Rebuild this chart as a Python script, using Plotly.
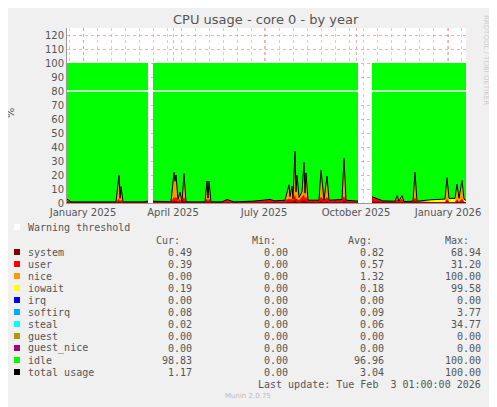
import plotly.graph_objects as go

# sampled points (None marks the two gaps in the data)
dates = ["2024-12-16", "2024-12-17", "2024-12-20", "2024-12-22", "2025-01-08", "2025-01-20",
         "2025-02-03", "2025-02-06", "2025-02-07", "2025-02-08", "2025-02-10", "2025-03-02", "2025-03-07",
         "2025-03-09",
         "2025-03-12", "2025-03-30", "2025-04-02", "2025-04-03", "2025-04-04", "2025-04-06", "2025-04-08",
         "2025-04-10", "2025-04-12", "2025-04-14", "2025-05-03", "2025-05-05", "2025-05-06", "2025-05-07",
         "2025-05-09", "2025-05-20", "2025-05-25", "2025-06-01", "2025-06-20", "2025-07-07", "2025-07-12",
         "2025-07-22", "2025-07-26", "2025-07-27", "2025-07-29", "2025-07-30", "2025-08-01", "2025-08-02",
         "2025-08-03", "2025-08-05", "2025-08-08", "2025-08-10", "2025-08-11", "2025-08-12", "2025-08-14",
         "2025-08-25", "2025-08-27", "2025-08-30", "2025-09-02", "2025-09-04", "2025-09-17", "2025-09-19",
         "2025-09-21", "2025-10-03",
         "2025-10-10",
         "2025-10-17", "2025-10-22", "2025-10-28", "2025-11-09", "2025-11-11", "2025-11-13", "2025-11-16",
         "2025-11-18", "2025-11-27", "2025-11-29", "2025-12-01", "2025-12-15", "2025-12-29", "2025-12-31",
         "2026-01-02", "2026-01-08", "2026-01-10", "2026-01-12", "2026-01-15", "2026-01-17", "2026-01-19"]
system = [0.5, 0.5, 0.3, 0.3, 0.3, 0.3, 0.3, 1.0, 0.5, 0.8, 0.3, 0.3, 0.3,
          None,
          0.3, 0.3, 1.5, 1.0, 1.5, 0.5, 0.8, 0.3, 1.5, 0.3, 0.3, 1.2, 0.5, 1.2,
          0.3, 0.3, 0.5, 0.3, 0.3, 0.5, 0.5,
          0.5, 1.0, 0.5, 1.0, 0.5, 2.0, 1.0,
          0.8, 0.5, 1.5, 2.0, 1.0, 1.5, 0.5,
          0.5, 1.5, 0.5, 1.2, 0.5, 0.5, 2.0,
          0.5, 0.5,
          None,
          1.0, 0.8, 0.5, 0.5, 0.8, 0.5, 0.8,
          0.5, 0.5, 1.5, 0.5, 0.3, 0.3, 1.0,
          0.3, 0.3, 1.0, 0.3, 1.0, 0.3, 0.3]
user = [1.5, 1.5, 0.5, 0.5, 1.0, 0.8, 0.5, 2.0, 0.8, 1.5, 0.5, 0.5, 1.0,
        None,
        1.0, 0.5, 3.0, 2.0, 3.0, 1.0, 2.0, 0.5, 3.0, 0.5, 0.5, 2.0, 1.0, 2.0,
        0.5, 0.5, 2.0, 0.5, 1.0, 2.0, 1.0,
        1.5, 2.0, 2.0, 2.0, 1.5, 4.0, 2.0,
        2.0, 1.5, 3.0, 4.0, 2.0, 3.0, 1.5,
        1.5, 3.0, 1.5, 3.0, 1.5, 2.0, 3.0,
        1.5, 0.8,
        None,
        3.5, 2.5, 1.0, 0.8, 2.0, 0.8, 2.0,
        0.5, 0.8, 2.5, 0.8, 0.5, 0.5, 2.0,
        0.5, 0.5, 1.5, 0.5, 2.0, 0.5, 0.5]
nice = [0.0, 0.0, 0.0, 0.0, 0.0, 0.0, 0.0, 16.0, 2.0, 9.0, 0.0, 0.0, 0.0,
        None,
        0.0, 0.0, 17.0, 12.0, 15.0, 1.0, 5.0, 0.0, 16.0, 0.0, 0.0, 12.0, 2.0, 12.0,
        0.0, 0.0, 0.0, 0.0, 0.0, 0.0, 0.0,
        0.0, 9.0, 2.0, 8.0, 1.0, 29.0, 5.0,
        16.0, 2.0, 3.0, 22.0, 4.0, 16.0, 0.0,
        0.0, 18.0, 0.0, 14.0, 0.0, 0.0, 26.0,
        0.0, 0.0,
        None,
        0.0, 0.0, 0.0, 0.0, 2.0, 0.0, 2.0,
        0.0, 0.0, 17.0, 0.0, 0.0, 0.0, 12.0,
        0.0, 0.0, 9.0, 0.0, 10.0, 0.0, 0.0]
iowait = [0.5, 0.5, 0.0, 0.0, 0.0, 0.0, 0.0, 1.0, 0.0, 0.5, 0.0, 0.0, 0.0,
          None,
          0.0, 0.0, 0.5, 0.5, 0.5, 0.0, 0.0, 0.0, 0.5, 0.0, 0.0, 0.5, 0.0, 0.5,
          0.0, 0.0, 0.0, 0.0, 0.0, 0.0, 0.0,
          0.0, 1.0, 0.0, 1.0, 0.0, 2.0, 0.0,
          1.0, 0.0, 0.5, 1.0, 0.0, 1.0, 0.0,
          0.0, 1.0, 0.0, 1.0, 0.0, 0.0, 1.0,
          0.0, 0.0,
          None,
          0.0, 0.0, 0.0, 0.0, 0.5, 0.0, 0.5,
          0.0, 0.0, 1.0, 0.0, 1.5, 2.0, 3.0,
          2.5, 2.5, 2.0, 2.5, 3.0, 2.0, 1.0]

legend_rows = ["system", "user", "nice", "iowait", "irq", "softirq", "steal", "guest", "guest_nice", "idle", "total usage"]
legend_colors = ["#7E0000", "#FF0000", "#FF9900", "#FFFF00", "#0000FF", "#00AAFF", "#00FFFF", "#B39900", "#AA0077", "#00FF00", "#000000"]
cur = ["0.49", "0.39", "0.00", "0.19", "0.00", "0.08", "0.02", "0.00", "0.00", "98.83", "1.17"]
mins = ["0.00"] * 11
avg = ["0.82", "0.57", "1.32", "0.18", "0.00", "0.09", "0.06", "0.00", "0.00", "96.96", "3.04"]
maxs = ["68.94", "31.20", "100.00", "99.58", "0.00", "3.77", "34.77", "0.00", "0.00", "100.00", "100.00"]


def cum(*series):
    out = []
    for vals in zip(*series):
        out.append(None if vals[0] is None else sum(vals))
    return out


c1 = cum(system)
c2 = cum(system, user)
c3 = cum(system, user, nice)
c4 = cum(system, user, nice, iowait)
c5 = [None if v is None else 100 for v in c4]

# split into contiguous blocks at the gaps so fills don't bridge them
blocks, start = [], 0
for i, v in enumerate(system):
    if v is None:
        blocks.append((start, i))
        start = i + 1
blocks.append((start, len(system)))

fig = go.Figure()
for a, b in blocks:
    for ys, col in [(c5, "#00FF00"), (c4, "#FFFF00"), (c3, "#FF9900"), (c2, "#FF0000"), (c1, "#7E0000")]:
        fig.add_trace(go.Scatter(x=dates[a:b], y=ys[a:b], mode="lines", fill="tozeroy", fillcolor=col,
                                 line=dict(width=0, color=col), hoverinfo="skip"))
    fig.add_trace(go.Scatter(x=dates[a:b], y=c4[a:b], mode="lines", line=dict(width=1, color="black")))

# the page body adds 8px margin, so layout is shifted by OFF
OFF = 8
W, H = 497 - OFF, 407 - OFF
L, R, T, B = 67, 466, 28, 203


def px(x):
    return (x - L) / (R - L)


def py(y):
    return (B - y) / (B - T)


mono = dict(family="DejaVu Sans Mono", size=10, color="#555")
ann = []
shapes = [dict(type="line", xref="paper", yref="y", x0=0, x1=1, y0=80, y1=80,
               line=dict(color="white", width=1.5))]


def text(x, y, s, anchor="left", font=mono):
    ann.append(dict(xref="paper", yref="paper", x=px(x), y=py(y), text=s, showarrow=False,
                    xanchor=anchor, yanchor="middle", font=font))


def square(y, col):
    shapes.append(dict(type="rect", xref="paper", yref="paper", x0=px(14), x1=px(20),
                       y0=py(y + 3), y1=py(y - 3), fillcolor=col, line=dict(width=0)))


square(227, "white")
text(26, 227, "Warning threshold")
for x, h in [(194, "Cur:"), (290, "Min:"), (386, "Avg:"), (483, "Max:")]:
    text(x - 12, 240, h, "right")
for i, name in enumerate(legend_rows):
    y = 252 + 12 * i
    square(y, legend_colors[i])
    text(26, y, name)
    text(194, y, cur[i], "right")
    text(290, y, mins[i], "right")
    text(386, y, avg[i], "right")
    text(483, y, maxs[i], "right")
text(483, 384, "Last update: Tue Feb  3 01:00:00 2026", "right")
text(248, 396, "Munin 2.0.75", "center", dict(family="DejaVu Sans", size=7, color="#bbb"))
text(10, 113, "%", "center", dict(family="DejaVu Sans", size=11, color="#555"))
ann[-1]["textangle"] = -90
text(486, 60, "RRDTOOL / TOBI OETIKER", "center", dict(family="DejaVu Sans", size=7, color="#ccc"))
ann[-1]["textangle"] = 90
text(266, 19, "CPU usage - core 0 - by year", "center", dict(family="DejaVu Sans", size=13, color="#555"))

grid = dict(showgrid=True, gridcolor="rgba(230,120,120,0.6)", griddash="dot", gridwidth=1)
fig.update_layout(
    width=W, height=H, margin=dict(l=L - OFF, r=W - (R - OFF), t=T - OFF, b=H - (B - OFF)),
    paper_bgcolor="#F0F0F0", plot_bgcolor="white", showlegend=False,
    font=dict(family="DejaVu Sans", size=10, color="#555"),
    annotations=ann, shapes=shapes,
    xaxis=dict(type="date", range=["2024-12-16", "2026-01-19"], automargin=False,
               tickvals=["2025-01-01", "2025-04-01", "2025-07-01", "2025-10-01", "2026-01-01"],
               ticktext=["January 2025", "April 2025", "July 2025", "October 2025", "January 2026"],
               ticks="", showline=True, linecolor="#999", zeroline=False,
               minor=dict(dtick=14 * 86400000, tick0="2025-01-01", showgrid=True,
                          gridcolor="rgba(230,120,120,0.45)", griddash="dot"), **grid),
    yaxis=dict(range=[0, 125], dtick=10, ticks="", showline=True, linecolor="#999",
               zeroline=False, automargin=False, **grid),
)
fig.write_html("out.html")
